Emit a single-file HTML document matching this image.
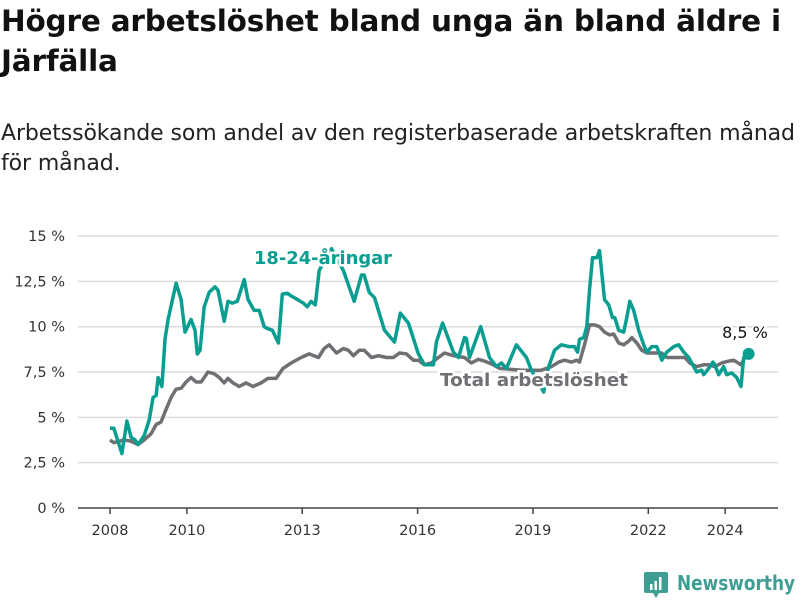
<!DOCTYPE html>
<html><head><meta charset="utf-8"><style>
body{margin:0;background:#fff;width:800px;height:600px;overflow:hidden;font-family:"DejaVu Sans","Liberation Sans",sans-serif}
#title{position:absolute;left:1px;top:1px;width:799px;font-size:29.5px;font-weight:bold;color:#111;line-height:40px;margin:0;letter-spacing:-0.2px;white-space:nowrap}
#sub{position:absolute;left:1px;top:119px;width:799px;font-size:22px;color:#222;line-height:30px;margin:0;letter-spacing:-0.1px;white-space:nowrap}
svg{position:absolute;left:0;top:0}
</style></head><body>
<h1 id="title">Högre arbetslöshet bland unga än bland äldre i<br>Järfälla</h1>
<p id="sub">Arbetssökande som andel av den registerbaserade arbetskraften månad<br>för månad.</p>
<svg id="chart" width="800" height="600"></svg>
<script>
const yTicks=[0,2.5,5,7.5,10,12.5,15];
const yTickLabels=["0 %","2,5 %","5 %","7,5 %","10 %","12,5 %","15 %"];
const xTicks=[2008,2010,2013,2016,2019,2022,2024];
const youthDates=[2008.0,2008.1,2008.31,2008.44,2008.55,2008.65,2008.73,2008.89,2009.02,2009.12,2009.2,2009.25,2009.35,2009.43,2009.51,2009.72,2009.85,2009.95,2010.11,2010.21,2010.27,2010.34,2010.45,2010.58,2010.73,2010.81,2010.97,2011.07,2011.18,2011.31,2011.49,2011.59,2011.75,2011.88,2012.01,2012.09,2012.22,2012.38,2012.48,2012.61,2012.71,2012.87,2013.03,2013.13,2013.23,2013.34,2013.44,2013.76,2014.07,2014.35,2014.54,2014.61,2014.74,2014.88,2015.14,2015.4,2015.55,2015.76,2016.02,2016.18,2016.41,2016.49,2016.65,2016.93,2017.06,2017.22,2017.27,2017.35,2017.64,2017.87,2018.05,2018.18,2018.31,2018.57,2018.83,2018.96,2019.28,2019.41,2019.56,2019.74,2019.93,2020.08,2020.16,2020.21,2020.32,2020.4,2020.47,2020.55,2020.66,2020.73,2020.86,2020.97,2021.07,2021.13,2021.23,2021.36,2021.44,2021.52,2021.62,2021.75,2021.88,2021.96,2022.09,2022.22,2022.35,2022.48,2022.66,2022.79,2022.92,2023.05,2023.18,2023.26,2023.39,2023.44,2023.57,2023.68,2023.73,2023.83,2023.96,2024.04,2024.17,2024.3,2024.41,2024.48,2024.61];
const youthValues=[4.4,4.4,3.0,4.8,3.9,3.75,3.5,4.0,4.85,6.1,6.2,7.2,6.7,9.3,10.4,12.4,11.5,9.7,10.4,9.8,8.5,8.7,11.1,11.9,12.2,12.0,10.3,11.4,11.3,11.4,12.6,11.5,10.9,10.9,10.0,9.9,9.8,9.1,11.8,11.85,11.7,11.5,11.3,11.1,11.4,11.2,13.1,14.3,13.1,11.4,12.85,12.85,11.9,11.6,9.8,9.15,10.75,10.2,8.5,7.9,7.9,9.15,10.2,8.6,8.3,9.4,9.35,8.3,10.0,8.3,7.8,8.0,7.7,9.0,8.3,7.6,6.4,7.8,8.7,9.0,8.9,8.9,8.6,9.3,9.4,10.0,12.0,13.8,13.8,14.2,11.5,11.2,10.5,10.5,9.8,9.7,10.5,11.4,10.9,9.8,9.0,8.6,8.9,8.9,8.15,8.6,8.9,9.0,8.6,8.3,7.8,7.5,7.6,7.35,7.7,8.05,7.9,7.35,7.8,7.35,7.45,7.2,6.7,8.3,8.5];
const totalDates=[2008.0,2008.1,2008.36,2008.52,2008.73,2008.89,2009.07,2009.2,2009.33,2009.43,2009.59,2009.72,2009.85,2009.98,2010.11,2010.24,2010.37,2010.55,2010.71,2010.84,2010.97,2011.07,2011.2,2011.36,2011.54,2011.72,2011.93,2012.11,2012.32,2012.5,2012.71,2012.97,2013.18,2013.42,2013.57,2013.7,2013.89,2014.07,2014.2,2014.33,2014.48,2014.61,2014.8,2014.98,2015.19,2015.37,2015.53,2015.71,2015.89,2016.02,2016.18,2016.36,2016.54,2016.7,2016.93,2017.22,2017.4,2017.58,2017.74,2017.92,2018.13,2018.7,2019.22,2019.48,2019.67,2019.82,2020.0,2020.14,2020.21,2020.34,2020.47,2020.6,2020.73,2020.86,2020.99,2021.1,2021.23,2021.36,2021.49,2021.57,2021.7,2021.83,2021.96,2022.17,2022.35,2022.48,2022.66,2022.79,2022.95,2023.08,2023.26,2023.44,2023.57,2023.73,2023.91,2024.09,2024.22,2024.41,2024.51];
const totalValues=[3.75,3.6,3.75,3.7,3.5,3.75,4.1,4.6,4.75,5.3,6.1,6.55,6.6,6.95,7.2,6.95,6.95,7.5,7.4,7.2,6.9,7.15,6.9,6.7,6.9,6.7,6.9,7.15,7.15,7.7,8.0,8.3,8.5,8.3,8.8,9.0,8.55,8.8,8.7,8.4,8.7,8.7,8.3,8.4,8.3,8.3,8.55,8.5,8.15,8.15,7.9,8.0,8.3,8.55,8.4,8.3,8.0,8.2,8.1,7.95,7.7,7.6,7.6,7.8,8.05,8.15,8.05,8.15,8.05,9.0,10.1,10.1,10.0,9.7,9.55,9.6,9.1,9.0,9.2,9.4,9.1,8.7,8.55,8.55,8.55,8.3,8.3,8.3,8.3,8.0,7.8,7.9,7.9,7.8,8.0,8.1,8.15,7.9,8.3];
const lastLabel="8,5 %";

const NS="http://www.w3.org/2000/svg";
const svg=document.getElementById('chart');
const X=t=>110+(t-2008)*38.45;
const Y=v=>508-v*18.13;
function mk(tag,attrs,parent){const e=document.createElementNS(NS,tag);for(const k in attrs)e.setAttribute(k,attrs[k]);(parent||svg).appendChild(e);return e;}
yTicks.forEach((v,i)=>{
  if(v>0){const g=mk('line',{x1:78,x2:778,y1:Y(v),y2:Y(v),stroke:'#dcdcdc','stroke-width':1.5});
  
  }
  const t=mk('text',{x:65,y:Y(v)+5,'text-anchor':'end','font-size':14.5,fill:'#333'});
  t.textContent=yTickLabels[i];
  
  
});
const ax=mk('line',{x1:78,x2:778,y1:508,y2:508,stroke:'#444','stroke-width':1.5});


xTicks.forEach(yr=>{
  const tk=mk('line',{x1:X(yr),x2:X(yr),y1:508,y2:514,stroke:'#444','stroke-width':1.5});
  
  
  const t=mk('text',{x:X(yr),y:535,'text-anchor':'middle','font-size':14.5,fill:'#333'});
  t.textContent=yr;
  
  
});
function path(d,v){return d.map((t,i)=>(i?'L':'M')+X(t).toFixed(1)+','+Y(v[i]).toFixed(1)).join('');}
const tl=mk('path',{d:path(totalDates,totalValues),fill:'none',stroke:'#706f74','stroke-width':3.5,'stroke-linejoin':'round'});


const yl=mk('path',{d:path(youthDates,youthValues),fill:'none',stroke:'#0a9e91','stroke-width':3.5,'stroke-linejoin':'round'});


const n=youthDates.length-1;
const dot=mk('circle',{cx:X(youthDates[n]),cy:Y(youthValues[n]),r:6,fill:'#0a9e91'});


const lv=mk('text',{x:745,y:338,'text-anchor':'middle','font-size':16,fill:'#111',stroke:'#fff','stroke-width':4,'paint-order':'stroke'});
lv.textContent=lastLabel;


const l1=mk('text',{x:254,y:264,'font-size':18,'font-weight':'bold',fill:'#0a9e91',stroke:'#fff','stroke-width':5,'paint-order':'stroke',textLength:138,lengthAdjust:'spacingAndGlyphs'});
l1.textContent='18-24-åringar';


const l2=mk('text',{x:440,y:386,'font-size':18,'font-weight':'bold',fill:'#706f74',stroke:'#fff','stroke-width':5,'paint-order':'stroke',textLength:188,lengthAdjust:'spacingAndGlyphs'});
l2.textContent='Total arbetslöshet';


const g=mk('g',{});


mk('path',{d:'M646,572 h20 a2,2 0 0 1 2,2 v17 a2,2 0 0 1 -2,2 h-7 l-3,5 l-3,-5 h-7 a2,2 0 0 1 -2,-2 v-17 a2,2 0 0 1 2,-2z',fill:'#3f9e93'},g);
mk('rect',{x:650,y:584,width:2.5,height:6,fill:'#fff'},g);
mk('rect',{x:654.5,y:581,width:2.5,height:9,fill:'#fff'},g);
mk('rect',{x:659,y:577,width:2.5,height:13,fill:'#fff'},g);
const lt=mk('text',{x:677,y:590,'font-size':20,'font-weight':'bold',fill:'#3f9e93',textLength:118,lengthAdjust:'spacingAndGlyphs'},g);
lt.textContent='Newsworthy';
</script>
</body></html>
